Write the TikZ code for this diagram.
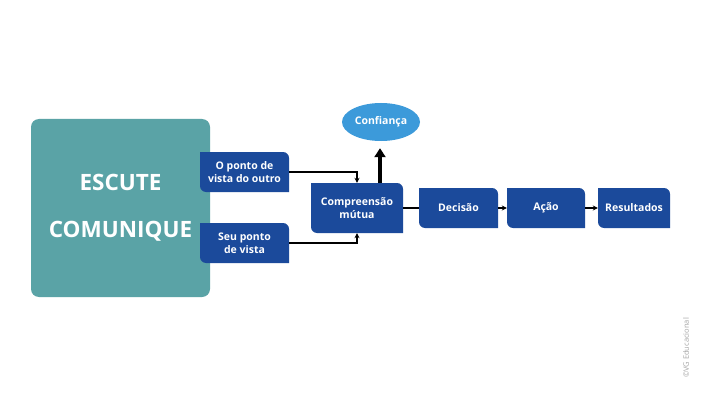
\documentclass[tikz,border=0pt]{standalone}
\usepackage{fontspec}
\setmainfont{Open Sans}
\usepackage{tikz}
\usepackage{xcolor}
\usetikzlibrary{arrows.meta,shapes.geometric}

\definecolor{azul}{HTML}{1B4A9B}
\definecolor{verdeagua}{HTML}{5AA3A6}
\definecolor{celeste}{HTML}{3C9ADA}

\tikzset{
    caixa/.style={text=white, font=\bfseries\fontsize{10.5}{13}\selectfont, align=center,
        inner sep=0pt, minimum width=#1, minimum height=40pt,
        path picture={\fill[azul] (path picture bounding box.north west)
            -- ([xshift=-6pt]path picture bounding box.north east)
            arc[start angle=90,end angle=0,radius=6pt]
            -- (path picture bounding box.south east)
            -- ([xshift=6pt]path picture bounding box.south west)
            arc[start angle=270,end angle=180,radius=6pt] -- cycle;}},
    seta/.style={line width=1.5pt, -{Stealth[length=5pt,width=5pt]}},
    grossa/.style={line width=3.5pt, -{Triangle[length=9pt,width=11pt]}}
}

\begin{document}
\begin{tikzpicture}[x=1pt,y=-1pt]
        % White background fixes the margins
        \fill[white] (0,0) rectangle (701,401);
        \useasboundingbox (0,0) rectangle (701,401);
        % Big teal box
        \node[fill=verdeagua, rounded corners=8pt, minimum width=179pt, minimum height=178pt,
            text=white, align=center, font=\bfseries\fontsize{22.5}{47}\selectfont]
            (escute) at (120.5,208) {ESCUTE\\COMUNIQUE};
        % Points of view
        \node[caixa=89pt] (outro) at (244.5,172) {O ponto de\\vista do outro};
        \node[caixa=89pt] (seu) at (244.5,243) {Seu ponto\\de vista};
        % Middle and trust
        \node[caixa=92pt, minimum height=50pt] (comp) at (357,208) {Compreensão\\mútua};
        \node[ellipse, fill=celeste, minimum width=78pt, minimum height=38pt, inner sep=0pt,
            text=white, font=\bfseries\fontsize{10.5}{12}\selectfont] (conf) at (381,122) {Confiança};
        % Chain to the right
        \node[caixa=79pt] (decisao) at (458.5,208) {Decisão};
        \node[caixa=78pt] (acao) at (546,208) {Ação};
        \node[caixa=72pt] (result) at (634,208) {Resultados};
        % Connectors
        \draw[seta] (outro.east) -| (comp.north);
        \draw[seta] (seu.east) -| (comp.south);
        \coordinate (topo) at ([xshift=23pt]comp.north);
        \coordinate (ponta) at ([yshift=-7pt]conf.south);
        \draw[grossa] (topo) -- (topo |- ponta);
        \draw[line width=1.5pt] (comp.east) -- (decisao.west);
        \draw[seta] (decisao.east) -- (acao.west);
        \draw[seta] (acao.east) -- (result.west);
        % Watermark
        \node[rotate=90, text=gray!70, font=\fontsize{7.5}{8}\selectfont] (marca) at (686,348) {©VG Educacional};
    \end{tikzpicture}
\end{document}
